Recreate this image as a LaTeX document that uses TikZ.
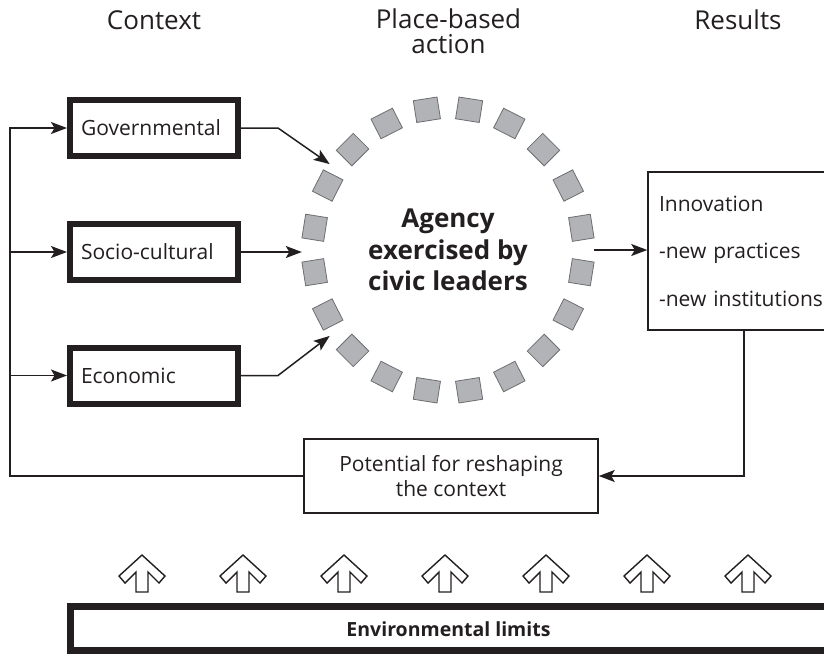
\documentclass[tikz,border=0pt]{standalone}
\usepackage{fontspec}
\setmainfont{Open Sans}
\usetikzlibrary{arrows.meta,calc}
\definecolor{ink}{HTML}{231F20}
\definecolor{sqfill}{HTML}{B1B3B6}
\definecolor{sqline}{HTML}{6D6E71}
\begin{document}
\begin{tikzpicture}[x=1pt,y=-1pt,
  every node/.style={text=ink},
  hdr/.style={font=\fontsize{26}{25}\selectfont, inner sep=0pt},
  ctxbox/.style={draw=ink, line width=6pt, minimum height=56pt, text width=146pt, inner xsep=11pt, align=left, font=\fontsize{21}{25}\selectfont},
  thinbox/.style={draw=ink, line width=1.5pt},
  conn/.style={draw=ink, line width=1.5pt, -{Stealth[length=16pt,width=12pt,inset=3.5pt]}},
  sqr/.style={draw=sqline, fill=sqfill, line width=0.8pt, minimum width=22pt, minimum height=24pt, inner sep=0pt},
  uparrow/.style={draw=ink, line width=1.4pt, fill=white, line join=miter}
]
\useasboundingbox (0,0) rectangle (824,654);
\clip (0,0) rectangle (824,654);
\fill[white] (0,0) rectangle (824,654);

% headers
\node[hdr, anchor=base] (hctx) at (154,29) {Context};
\node[hdr, align=center] (hplace) at (448.5,31.6) {Place-based\\action};
\node[hdr, anchor=base] (hres) at (738,29) {Results};

% context boxes
\node[ctxbox] (gov) at (154,128) {Governmental};
\node[ctxbox] (soc) at (154,252) {Socio-cultural};
\node[ctxbox] (econ) at (154,375.5) {Economic};

% agency circle
\foreach \k in {0,...,19}{
  \pgfmathsetmacro{\ang}{9+18*\k}
  \node[sqr, rotate=\ang] (sq\k) at ({448+135*cos(\ang)},{250-142*sin(\ang)}) {};
}
\node[circle, minimum size=292pt, inner sep=0pt, align=center, font=\bfseries\fontsize{26}{31.5}\selectfont] (agency) at (448,250) {Agency\\exercised by\\civic leaders};

% results box
\node[thinbox, minimum width=212pt, minimum height=158pt, text width=190pt, inner xsep=11pt, align=left, font=\fontsize{21}{47.5}\selectfont] (res) at (754,251) {Innovation\\-new practices\\-new institutions};

% potential box
\node[thinbox, minimum width=294pt, minimum height=74pt, align=center, font=\fontsize{21}{25}\selectfont] (pot) at (451,476) {Potential for reshaping\\the context};

% environmental limits bar
\node[draw=ink, line width=7pt, anchor=west, minimum width=800pt, minimum height=44pt] (env) at (67,628.5) {};
\node[font=\bfseries\fontsize{19.5}{22}\selectfont] (envtext) at (448.5,629) {Environmental limits};

% up arrows
\foreach \x in {142,243,344,445,546,647,748}{
  \draw[uparrow, shift={(\x,555)}] (0,0) -- (23,21) -- (17,28) -- (6,17) -- (6,37) -- (-6,37) -- (-6,17) -- (-17,28) -- (-23,21) -- cycle;
}

% connectors
\coordinate (L) at (10,0);
\coordinate (R) at (744,0);
\draw[conn] (pot.west) -- (pot.west -| L) |- (gov.west);
\draw[conn] (soc.west -| L) -- (soc.west);
\draw[conn] (econ.west -| L) -- (econ.west);
\draw[conn] (gov.east) -- ++(37,0) -- (agency.144);
\draw[conn] (soc.east) -- (soc.east -| agency.west);
\draw[conn] (econ.east) -- ++(37,0) -- (agency.216);
\draw[conn] (agency.east) -- (agency.east -| res.west);
\draw[conn] (res.south -| R) |- (pot.east);
\end{tikzpicture}
\end{document}
